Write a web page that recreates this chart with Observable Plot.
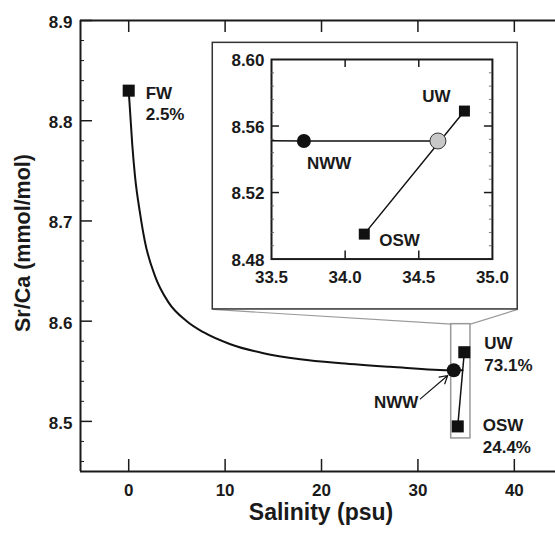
<!DOCTYPE html>
<html><head><meta charset="utf-8">
<script src="https://cdn.jsdelivr.net/npm/d3@7"></script>
<script src="https://cdn.jsdelivr.net/npm/@observablehq/plot@0.6"></script>
<style>
body{margin:0;background:#fff;}
#wrap{position:relative;width:555px;height:534px;}
#wrap svg{display:block;}
.inset{position:absolute;}
</style></head><body><div id="wrap"></div>
<script>
// ---- data ----
const endName = ["FW", "UW", "OSW"];
const endSal = [0, 34.81, 34.13];
const endSrCa = [8.83, 8.569, 8.495];
const endPct = ["2.5%", "73.1%", "24.4%"];
const nwwName = "NWW";
const nwwSal = 33.72, nwwSrCa = 8.551;
const mixSal = 34.63, mixSrCa = 8.551;
const curveSal = [0, 0.37, 0.65, 1.17, 1.69, 2.73, 4.11, 6.02, 7.75, 10.55, 13.98, 17.8, 22.0, 27.1, 33.72, 34.63];
const curveSrCa = [8.83, 8.776, 8.745, 8.708, 8.679, 8.645, 8.619, 8.6, 8.589, 8.577, 8.568, 8.562, 8.558, 8.5545, 8.551, 8.551];
const xDomain = [-5, 44.27];
const yDomain = [8.45, 8.9];
const xTicks = [0, 10, 20, 30, 40];
const yTicks = [8.5, 8.6, 8.7, 8.8, 8.9];
const yMinor = [8.46, 8.48, 8.52, 8.54, 8.56, 8.58, 8.62, 8.64, 8.66, 8.68, 8.72, 8.74, 8.76, 8.78, 8.82, 8.84, 8.86, 8.88];
const insetX = [33.5, 35.0];
const insetY = [8.48, 8.60];
const insetXTicks = [33.5, 34.0, 34.5, 35.0];
const insetXInner = [34.0, 34.5];
const insetYTicks = [8.48, 8.52, 8.56, 8.60];
const insetYInner = [8.52, 8.56];
const insetYMinor = [8.488, 8.496, 8.504, 8.512, 8.528, 8.536, 8.544, 8.552, 8.568, 8.576, 8.584, 8.592];
const zoomBoxX = [33.45, 35.45], zoomBoxY = [8.483, 8.597];
const insetBoxX = [8.72, 40.35], insetBoxY = [8.6117, 8.8777];
const arrowFrom = [30.25, 8.5225];
const xTitle = "Salinity (psu)";
const yTitle = "Sr/Ca (mmol/mol)";

// ---- tables ----
const curve = curveSal.map((s, i) => ({s, c: curveSrCa[i]}));
const ends = endName.map((n, i) => ({n, s: endSal[i], c: endSrCa[i], p: endPct[i]}));
const mixLine = [ends[2], ends[1]];
const FONT = "'Liberation Sans', Arial, Helvetica, sans-serif";
const INK = "#1a1a1a";
const txt = {fontSize: 17, fontWeight: "bold", fill: INK};

const W = 555, H = 534, ML = 80, MR = 0, MT = 20, MB = 63;
const PW = W - ML - MR, PH = H - MT - MB;

function endLabel(i, dx, dy) {
  return Plot.text([ends[i]], {x: "s", y: "c", text: d => d.n + "\n" + d.p, textAnchor: "start",
    lineAnchor: "top", lineHeight: 1.25, dx, dy, ...txt});
}

const mainChart = Plot.plot({
  width: W, height: H, marginLeft: ML, marginRight: MR, marginTop: MT, marginBottom: MB,
  x: {domain: xDomain}, y: {domain: yDomain},
  style: {fontFamily: FONT, fontSize: "17px", fontWeight: "bold", color: INK, background: "transparent"},
  marks: [
    Plot.link([
      {x1: insetBoxX[0], y1: insetBoxY[0], x2: zoomBoxX[0], y2: zoomBoxY[1]},
      {x1: insetBoxX[1], y1: insetBoxY[0], x2: zoomBoxX[1], y2: zoomBoxY[1]}
    ], {x1: "x1", y1: "y1", x2: "x2", y2: "y2", stroke: "#9a9a9a", strokeWidth: 1.2}),
    Plot.rect([{}], {x1: insetBoxX[0], x2: insetBoxX[1], y1: insetBoxY[0], y2: insetBoxY[1], fill: "white", stroke: "#333", strokeWidth: 1.5}),
    Plot.rect([{}], {x1: zoomBoxX[0], x2: zoomBoxX[1], y1: zoomBoxY[0], y2: zoomBoxY[1], fill: "none", stroke: "#999", strokeWidth: 1.5}),
    Plot.ruleX([xDomain[0]], {stroke: INK, strokeWidth: 2}),
    Plot.ruleY([yDomain[0]], {stroke: INK, strokeWidth: 2}),
    Plot.ruleY([yDomain[1]], {stroke: INK, strokeWidth: 2}),
    Plot.tickY(yTicks, {y: d => d, insetRight: PW - 12, stroke: INK, strokeWidth: 1.5}),
    Plot.tickY(yMinor, {y: d => d, insetRight: PW - 4, stroke: INK, strokeWidth: 1}),
    Plot.tickX(xTicks, {x: d => d, insetTop: PH - 12, stroke: INK, strokeWidth: 1.5}),
    Plot.tickX(xTicks, {x: d => d, insetBottom: PH - 12, stroke: INK, strokeWidth: 1.5}),
    Plot.axisY({ticks: yTicks, tickSize: 0, tickPadding: 8, tickFormat: d3.format(".1f"), label: null, dy: 2, fontSize: 17}),
    Plot.axisX({ticks: xTicks, tickSize: 0, tickPadding: 12, label: null, fontSize: 17}),
    Plot.line(curve, {x: "s", y: "c", curve: "monotone-x", stroke: "#111", strokeWidth: 2}),
    Plot.line(mixLine, {x: "s", y: "c", stroke: "#111", strokeWidth: 1.5}),
    Plot.arrow([{}], {x1: arrowFrom[0], y1: arrowFrom[1], x2: nwwSal, y2: nwwSrCa, insetEnd: 8, headLength: 11, stroke: "#111", strokeWidth: 1.2}),
    Plot.dot([ends[0], ends[1], ends[2]], {x: "s", y: "c", symbol: "square", r: 6.8, fill: "#111", stroke: "none"}),
    Plot.dot([{}], {x: nwwSal, y: nwwSrCa, r: 7, fill: "#111", stroke: "none"}),
    endLabel(0, 17, -7),
    endLabel(1, 20, -18),
    endLabel(2, 25, -10),
    Plot.text([nwwName], {x: arrowFrom[0], y: arrowFrom[1], text: d => d, textAnchor: "end", dx: -2, dy: 4, ...txt}),
    Plot.text([xTitle], {frameAnchor: "bottom", text: d => d, dy: 41, dx: 3, lineAnchor: "middle", textAnchor: "middle", fontSize: 23, fontWeight: "bold", fill: INK}),
    Plot.text([yTitle], {frameAnchor: "left", text: d => d, rotate: -90, dx: -57, dy: -3, textAnchor: "middle", lineAnchor: "middle", fontSize: 21.5, fontWeight: "bold", fill: INK})
  ]
});
document.getElementById("wrap").appendChild(mainChart);

// ---- inset, placed from the main chart's own scales ----
const sx = mainChart.scale("x"), sy = mainChart.scale("y");
const boxL = sx.apply(insetBoxX[0]), boxR = sx.apply(insetBoxX[1]);
const boxT = sy.apply(insetBoxY[1]), boxB = sy.apply(insetBoxY[0]);
const IW = boxR - boxL, IH = boxB - boxT;
const IML = 59, IMR = 25, IMT = 17, IMB = 50;
const ipw = IW - IML - IMR, iph = IH - IMT - IMB;

const insetChart = Plot.plot({
  width: IW, height: IH, marginLeft: IML, marginRight: IMR, marginTop: IMT, marginBottom: IMB,
  x: {domain: insetX}, y: {domain: insetY},
  style: {fontFamily: FONT, fontSize: "17px", fontWeight: "bold", color: INK, background: "transparent"},
  marks: [
    Plot.line(curve, {x: "s", y: "c", stroke: "#111", strokeWidth: 1.5, clip: true}),
    Plot.line(mixLine, {x: "s", y: "c", stroke: "#111", strokeWidth: 1.5, clip: true}),
    Plot.frame({stroke: INK, strokeWidth: 2}),
    Plot.tickY(insetYInner, {y: d => d, insetRight: ipw - 8, stroke: INK, strokeWidth: 1.5}),
    Plot.tickY(insetYInner, {y: d => d, insetLeft: ipw - 8, stroke: INK, strokeWidth: 1.5}),
    Plot.tickY(insetYMinor, {y: d => d, insetRight: ipw - 3, stroke: "#555", strokeWidth: 0.8}),
    Plot.tickY(insetYMinor, {y: d => d, insetLeft: ipw - 3, stroke: "#555", strokeWidth: 0.8}),
    Plot.tickX(insetXInner, {x: d => d, insetTop: iph - 8, stroke: INK, strokeWidth: 1.5}),
    Plot.tickX(insetXInner, {x: d => d, insetBottom: iph - 8, stroke: INK, strokeWidth: 1.5}),
    Plot.axisY({ticks: insetYTicks, tickSize: 0, tickPadding: 7, tickFormat: d3.format(".2f"), label: null, dy: 1.5, fontSize: 17}),
    Plot.axisX({ticks: insetXTicks, tickSize: 0, tickPadding: 12, tickFormat: d3.format(".1f"), label: null, fontSize: 17}),
    Plot.dot([{}], {x: nwwSal, y: nwwSrCa, r: 7, fill: "#111", stroke: "none"}),
    Plot.dot([{}], {x: mixSal, y: mixSrCa, r: 8, fill: "#c8c8c8", stroke: "#333", strokeWidth: 1}),
    Plot.dot([ends[1], ends[2]], {x: "s", y: "c", symbol: "square", r: 6.2, fill: "#111", stroke: "none"}),
    Plot.text([ends[1]], {x: "s", y: "c", text: "n", textAnchor: "end", dx: -14, dy: -14.5, ...txt}),
    Plot.text([ends[2]], {x: "s", y: "c", text: "n", textAnchor: "start", dx: 15, dy: 6, ...txt}),
    Plot.text([nwwName], {x: nwwSal, y: nwwSrCa, text: d => d, textAnchor: "start", dx: 3, dy: 23, ...txt})
  ]
});
insetChart.classList.add("inset");
insetChart.style.left = boxL + "px";
insetChart.style.top = boxT + "px";
document.getElementById("wrap").appendChild(insetChart);
</script>
</body></html>
